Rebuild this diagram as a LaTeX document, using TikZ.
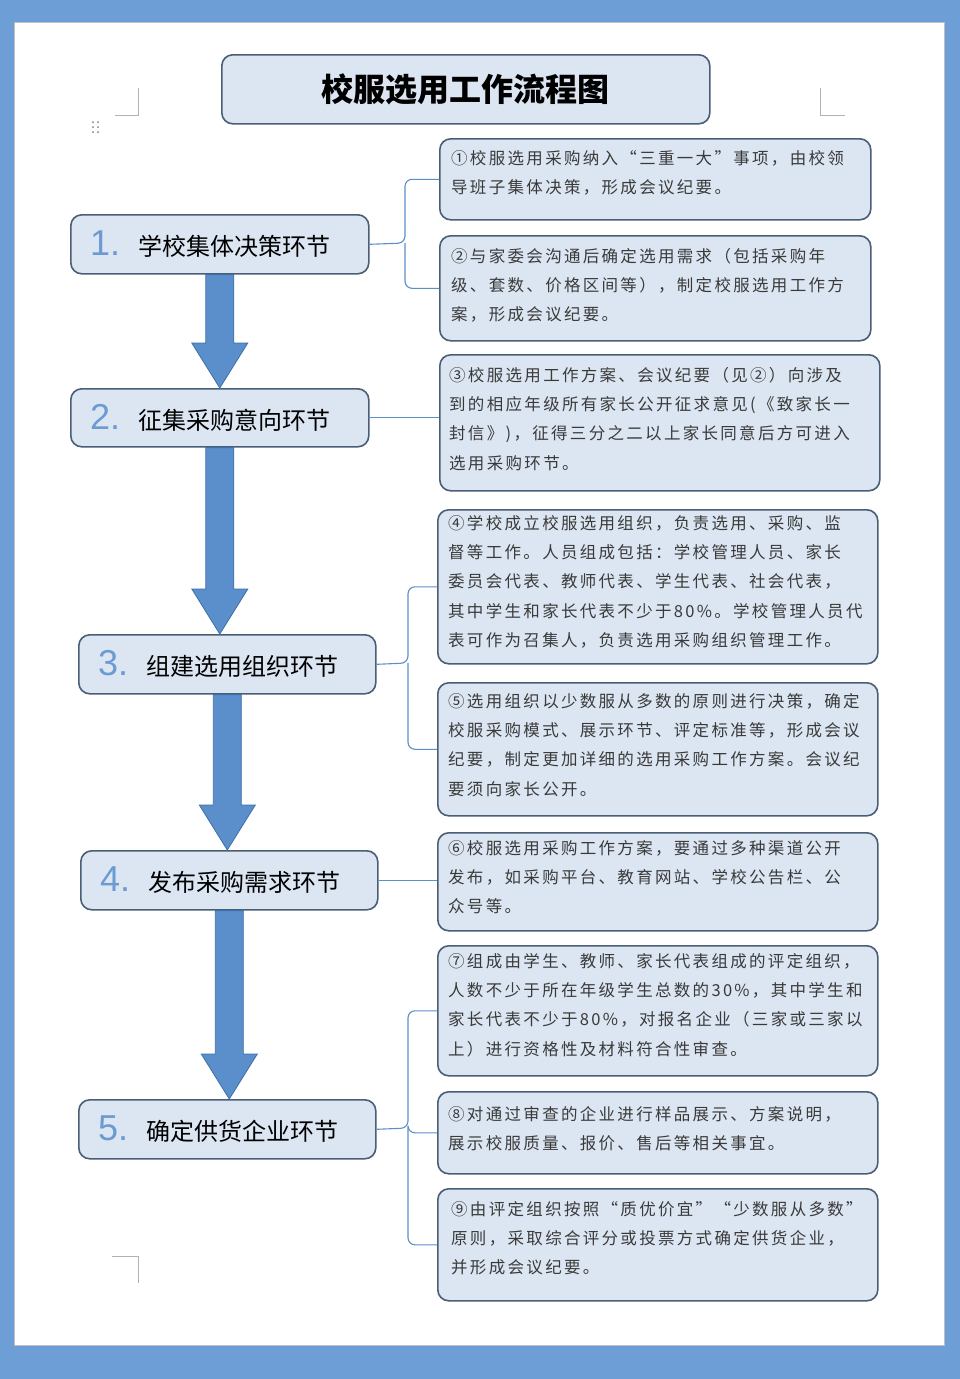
\documentclass[tikz,border=0pt]{standalone}
\usepackage{fontspec}
\setmainfont{Noto Sans CJK SC}
\newfontfamily\cjk{Noto Sans CJK SC}
\newfontfamily\cjkls[LetterSpace=14]{Noto Sans CJK SC}
\newfontfamily\numfont{Liberation Sans}
\usetikzlibrary{calc}
\definecolor{pageblue}{HTML}{6E9ED6}
\definecolor{boxfill}{HTML}{DCE6F2}
\definecolor{boxline}{HTML}{4A5E75}
\definecolor{arrowblue}{HTML}{5B8FCB}
\definecolor{arrowline}{HTML}{3E6FA8}
\definecolor{numblue}{HTML}{6C9BD2}
\definecolor{conncol}{HTML}{5C8FC7}
\definecolor{txt}{HTML}{3A3A3A}
\tikzset{
  bx/.style={draw=boxline, fill=boxfill, line width=1.6pt, rounded corners=11pt, anchor=north west, inner sep=0pt},
  rtext/.style={anchor=north west, align=left, inner sep=0pt, text=txt, font=\cjkls\fontsize{16.5}{29.3}\selectfont},
  ltext/.style={anchor=west, inner sep=0pt, text=black, font=\cjk\fontsize{24}{28}\selectfont},
  conn/.style={draw=conncol, line width=1.1pt, rounded corners=7pt},
  bigarrow/.style={fill=arrowblue, draw=arrowline, line width=0.8pt},
  cornermark/.style={draw=gray!60, line width=0.8pt}
}
\newcommand{\lbl}[3]{\node[ltext] at ($(#1.west)+(20,0)$) {{\numfont\color{numblue}\fontsize{36}{36}\selectfont #2\enspace}#3};}
\newcommand{\downarr}[2]{\path let \p1=(#1.south), \p2=(#2.north) in
  [bigarrow] (\x1-14pt,\y1) -- (\x1-14pt,\y2+45pt) -- (\x1-28pt,\y2+45pt) -- (\x1,\y2) -- (\x1+28pt,\y2+45pt) -- (\x1+14pt,\y2+45pt) -- (\x1+14pt,\y1) -- cycle;}
\begin{document}
\begin{tikzpicture}[x=1pt,y=-1pt]
\useasboundingbox (0,0) rectangle (960,1379);
\fill[pageblue] (0,0) rectangle (960,1379);
\fill[white] (14,22) rectangle (944,1345);
\draw[gray!50, line width=0.6pt] (14,22) rectangle (944,1345);
% corner marks
\draw[cornermark] (115,115) -- (138,115) -- (138,88);
\draw[cornermark] (820,88) -- (820,115) -- (845,115);
\draw[cornermark] (112,1256) -- (138,1256) -- (138,1283);
\foreach \i in {0,1} \foreach \j in {0,1,2} \fill[gray] (93+5*\i,122+5*\j) circle (1);
% title
\node[bx, minimum width=488, minimum height=69] (title) at (221,54) {};
\node[font=\cjk\bfseries\fontsize{32}{36}\selectfont] (titletext) at (title.center) {校服选用工作流程图};
% left boxes
\node[bx, minimum width=298, minimum height=59] (l1) at (70,214) {};
\node[bx, minimum width=298, minimum height=58] (l2) at (70,388) {};
\node[bx, minimum width=297, minimum height=59] (l3) at (78,634) {};
\node[bx, minimum width=297, minimum height=59] (l4) at (80,850) {};
\node[bx, minimum width=297, minimum height=59] (l5) at (78,1099) {};
\lbl{l1}{1.}{学校集体决策环节}
\lbl{l2}{2.}{征集采购意向环节}
\lbl{l3}{3.}{组建选用组织环节}
\lbl{l4}{4.}{发布采购需求环节}
\lbl{l5}{5.}{确定供货企业环节}
% arrows
\downarr{l1}{l2}
\downarr{l2}{l3}
\downarr{l3}{l4}
\downarr{l4}{l5}
% right boxes
\node[bx, minimum width=431, minimum height=81] (r1) at (439,138) {};
\node[bx, minimum width=431, minimum height=105] (r2) at (439,235) {};
\node[bx, minimum width=440, minimum height=136] (r3) at (439,354) {};
\node[bx, minimum width=440, minimum height=154] (r4) at (437,509) {};
\node[bx, minimum width=440, minimum height=133] (r5) at (437,682) {};
\node[bx, minimum width=440, minimum height=98] (r6) at (437,832) {};
\node[bx, minimum width=440, minimum height=130] (r7) at (437,945) {};
\node[bx, minimum width=440, minimum height=82] (r8) at (437,1091) {};
\node[bx, minimum width=440, minimum height=112] (r9) at (437,1188) {};
\node[rtext] (t1) at ($(r1.north west)+(12,12)$) {①校服选用采购纳入“三重一大”事项，由校领\\导班子集体决策，形成会议纪要。};
\node[rtext] (t2) at ($(r2.north west)+(12,13)$) {②与家委会沟通后确定选用需求（包括采购年\\级、套数、价格区间等），制定校服选用工作方\\案，形成会议纪要。};
\node[rtext] (t3) at ($(r3.north west)+(10,13)$) {③校服选用工作方案、会议纪要（见②）向涉及\\到的相应年级所有家长公开征求意见(《致家长一\\封信》)，征得三分之二以上家长同意后方可进入\\选用采购环节。};
\node[rtext] (t4) at ($(r4.north west)+(11,6)$) {④学校成立校服选用组织，负责选用、采购、监\\督等工作。人员组成包括：学校管理人员、家长\\委员会代表、教师代表、学生代表、社会代表，\\其中学生和家长代表不少于80\%。学校管理人员代\\表可作为召集人，负责选用采购组织管理工作。};
\node[rtext] (t5) at ($(r5.north west)+(11,11)$) {⑤选用组织以少数服从多数的原则进行决策，确定\\校服采购模式、展示环节、评定标准等，形成会议\\纪要，制定更加详细的选用采购工作方案。会议纪\\要须向家长公开。};
\node[rtext] (t6) at ($(r6.north west)+(11,8)$) {⑥校服选用采购工作方案，要通过多种渠道公开\\发布，如采购平台、教育网站、学校公告栏、公\\众号等。};
\node[rtext] (t7) at ($(r7.north west)+(11,8)$) {⑦组成由学生、教师、家长代表组成的评定组织，\\人数不少于所在年级学生总数的30\%，其中学生和\\家长代表不少于80\%，对报名企业（三家或三家以\\上）进行资格性及材料符合性审查。};
\node[rtext] (t8) at ($(r8.north west)+(11,15)$) {⑧对通过审查的企业进行样品展示、方案说明，\\展示校服质量、报价、售后等相关事宜。};
\node[rtext] (t9) at ($(r9.north west)+(14,13)$) {⑨由评定组织按照“质优价宜”“少数服从多数”\\原则，采取综合评分或投票方式确定供货企业，\\并形成会议纪要。};
% connectors
\coordinate (b1) at (405,243);
\draw[conn] (l1.east) -- (b1) |- (r1.west);
\draw[conn] (b1) |- (r2.west);
\draw[conn] (l2.east) -- (r3.west |- l2.east);
\coordinate (b3) at (408,663);
\draw[conn] (l3.east) -- (b3) |- (r4.west);
\draw[conn] (b3) |- (r5.west);
\draw[conn] (l4.east) -- (r6.west |- l4.east);
\coordinate (b5) at (408,1128);
\draw[conn] (l5.east) -- (b5) |- (r7.west);
\draw[conn] (b5) |- (r8.west);
\draw[conn] (b5) |- (r9.west);
\end{tikzpicture}
\end{document}
